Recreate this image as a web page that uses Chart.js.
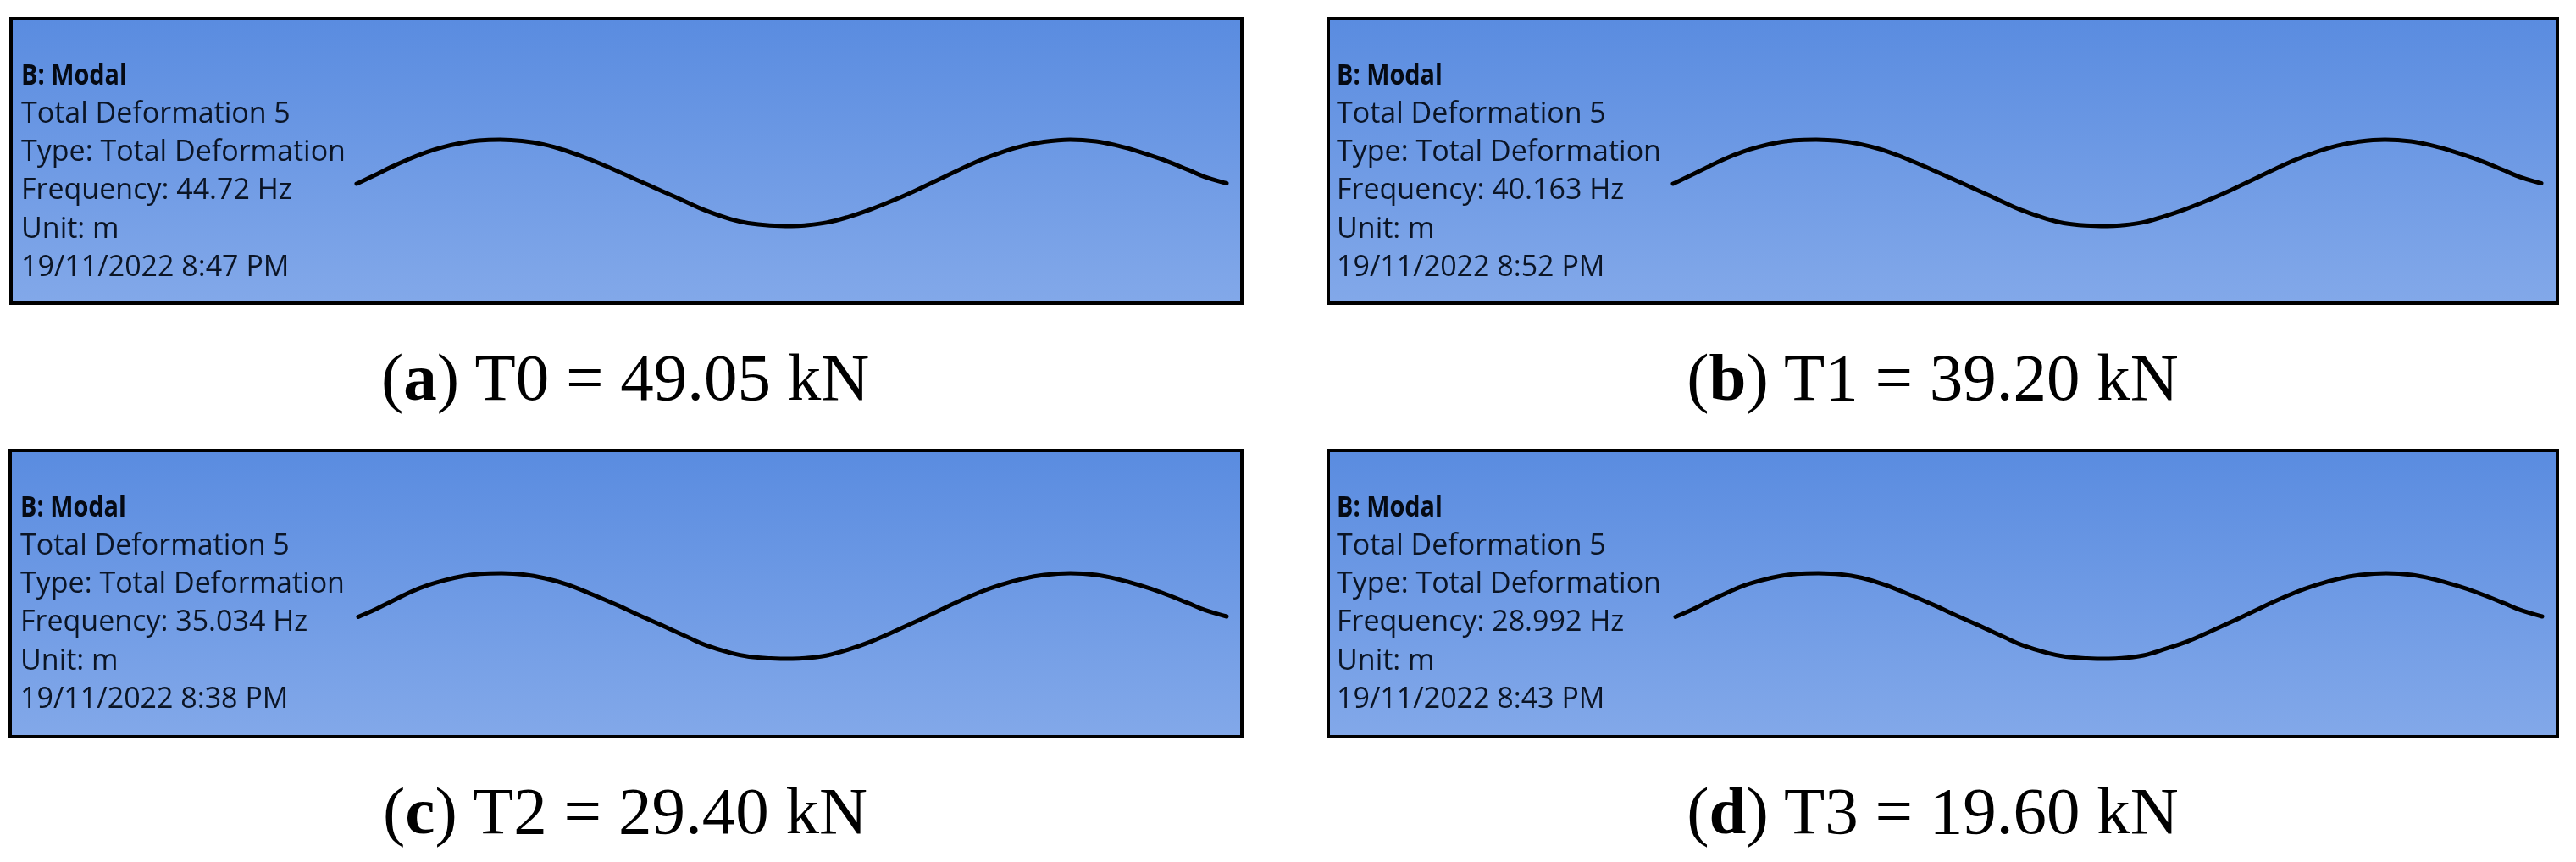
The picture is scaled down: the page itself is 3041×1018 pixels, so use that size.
<!DOCTYPE html>
<html>
<head>
<meta charset="utf-8">
<script src="https://cdn.jsdelivr.net/npm/chart.js@4/dist/chart.umd.min.js"></script>
<style>
html,body{margin:0;padding:0;background:#fff;width:3041px;height:1018px;overflow:hidden}
.panel{position:absolute;box-sizing:border-box;border:4.5px solid #000;background:linear-gradient(180deg,#5a8ce0 0%,#82a8e9 100%)}
canvas{position:absolute;display:block;filter:blur(.5px)}
.info{position:absolute;font-family:"Open Sans",sans-serif;font-size:34px;line-height:45.3px;color:#0b1526;white-space:nowrap;filter:blur(.45px)}
.info b{display:inline-block;font-weight:700;color:#050a14;transform-origin:0 50%;transform:scaleX(.85)}
.cap{position:absolute;font-family:"Liberation Serif",serif;font-size:79px;line-height:90px;color:#000;white-space:nowrap;text-align:center}
</style>
</head>
<body>
<script>
// Position along the deformed member (fraction of its length)
const stations = [0,.02,.04,.06,.08,.10,.12,.14,.165,.19,.215,.24,.27,.30,.32,.35,.38,.40,.43,.45,.475,.50,.515,.54,.565,.59,.615,.64,.665,.69,.715,.74,.765,.79,.82,.85,.875,.90,.925,.955,.975,1];
// Mode-shape deflection (+1 crest, -1 trough)
const deflectionA = [-.02,.17,.37,.55,.71,.83,.92,.98,1,.97,.89,.75,.53,.27,.09,-.18,-.45,-.63,-.84,-.93,-.985,-1,-.985,-.92,-.79,-.62,-.42,-.20,.04,.28,.51,.70,.85,.95,1,.96,.86,.72,.55,.31,.14,-.01];
const deflectionB = [-.02,.17,.37,.56,.72,.84,.93,.985,1,.975,.9,.77,.55,.29,.11,-.16,-.44,-.62,-.83,-.93,-.985,-1,-.985,-.92,-.78,-.61,-.41,-.19,.05,.29,.52,.71,.86,.955,1,.96,.86,.72,.55,.31,.14,-.01];
const deflectionC = [-.02,.16,.36,.56,.72,.84,.93,.985,1,.97,.88,.74,.5,.24,.05,-.22,-.5,-.68,-.87,-.95,-.99,-1,-.985,-.92,-.78,-.6,-.38,-.15,.09,.33,.55,.73,.87,.96,1,.96,.86,.72,.55,.31,.14,-.01];
const deflectionD = [-.02,.16,.36,.55,.72,.84,.93,.985,1,.975,.89,.74,.5,.24,.05,-.22,-.5,-.68,-.87,-.95,-.99,-1,-.985,-.92,-.77,-.6,-.38,-.15,.09,.33,.55,.73,.87,.96,1,.96,.86,.72,.55,.31,.14,-.01];

const heading = "B: Modal";
const resultName = "Total Deformation 5";
const resultType = "Type: Total Deformation";
const frequencies = ["Frequency: 44.72 Hz","Frequency: 40.163 Hz","Frequency: 35.034 Hz","Frequency: 28.992 Hz"];
const unitLabel = "Unit: m";
const timestamps = ["19/11/2022 8:47 PM","19/11/2022 8:52 PM","19/11/2022 8:38 PM","19/11/2022 8:43 PM"];
const captionLetters = ["a","b","c","d"];
const captionTexts = ["T0 = 49.05 kN","T1 = 39.20 kN","T2 = 29.40 kN","T3 = 19.60 kN"];

const series = [deflectionA,deflectionB,deflectionC,deflectionD];
// layout: frame, text start, curve box, caption box
const layout = [
 {l:11,  t:20,  r:1468,b:360,tx:25,  ty:64.5, cl:421, cr:1448,ct:165.3,cb:267.3,capL:450, capR:1025,capT:401},
 {l:1566,t:20,  r:3021,b:360,tx:1578,ty:64.5, cl:1975,cr:3000,ct:165.3,cb:267.3,capL:1990,capR:2573,capT:401},
 {l:10,  t:530, r:1468,b:872,tx:24,  ty:574.5,cl:423, cr:1448,ct:677,  cb:778.3,capL:452, capR:1024,capT:913},
 {l:1566,t:530, r:3021,b:872,tx:1578,ty:574.5,cl:1978,cr:3001,ct:677,  cb:778.3,capL:1990,capR:2573,capT:913}
];
const PAD = 8;

layout.forEach((g,i)=>{
  const p=document.createElement('div');p.className='panel';
  p.style.cssText=`left:${g.l}px;top:${g.t}px;width:${g.r-g.l}px;height:${g.b-g.t}px`;
  document.body.appendChild(p);

  const info=document.createElement('div');info.className='info';
  info.style.left=g.tx+'px';info.style.top=g.ty+'px';
  [heading,resultName,resultType,frequencies[i],unitLabel,timestamps[i]].forEach((s,k)=>{
    const d=document.createElement('div');
    if(k===0){const b=document.createElement('b');b.textContent=s;d.appendChild(b);}else d.textContent=s;
    info.appendChild(d);
  });
  document.body.appendChild(info);

  const c=document.createElement('canvas');
  const w=g.cr-g.cl+2*PAD,h=g.cb-g.ct+2*PAD;
  c.style.left=(g.cl-PAD)+'px';c.style.top=(g.ct-PAD)+'px';
  c.style.width=w+'px';c.style.height=h+'px';c.width=w;c.height=h;
  document.body.appendChild(c);
  new Chart(c,{type:'line',
    data:{datasets:[{data:stations.map((x,k)=>({x,y:series[i][k]})),borderColor:'#000',borderWidth:5,pointRadius:0,tension:.4,clip:false,fill:false,borderCapStyle:'round'}]},
    options:{responsive:false,animation:false,devicePixelRatio:1,layout:{padding:PAD},
      plugins:{legend:{display:false},tooltip:{enabled:false}},
      scales:{x:{type:'linear',min:0,max:1,display:false},y:{min:-1,max:1,display:false}}}});

  const cap=document.createElement('div');cap.className='cap';
  cap.style.left=g.capL+'px';cap.style.width=(g.capR-g.capL)+'px';cap.style.top=g.capT+'px';
  cap.append('(');
  const bb=document.createElement('b');bb.textContent=captionLetters[i];cap.appendChild(bb);
  cap.append(') '+captionTexts[i]);
  document.body.appendChild(cap);
});
</script>
</body>
</html>
